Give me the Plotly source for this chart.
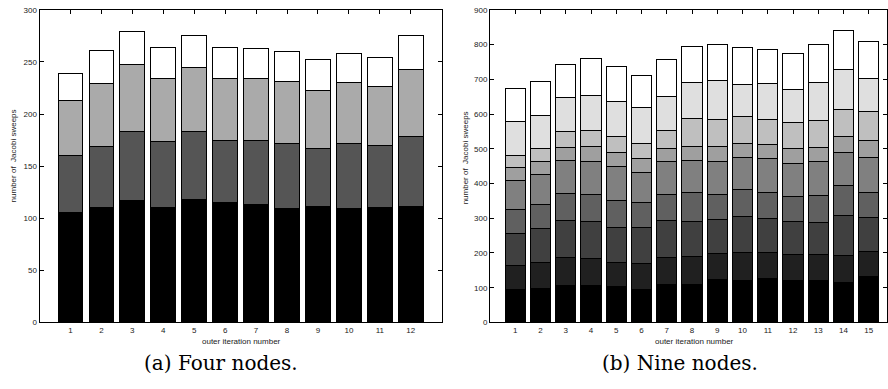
import plotly.graph_objects as go

# ---------------- data: (a) Four nodes ----------------
four_iters = list(range(1, 13))
four_seg1 = [106, 110, 117, 110, 118, 115, 113, 109, 111, 109, 110, 111]
four_seg2 = [54, 59, 66, 64, 65, 60, 62, 63, 56, 63, 60, 67]
four_seg3 = [53, 60, 65, 60, 62, 59, 59, 59, 56, 58, 56, 65]
four_seg4 = [26, 32, 31, 30, 30, 30, 29, 29, 29, 28, 28, 32]
four_colors = ["#000000", "#555555", "#aaaaaa", "#ffffff"]

# ---------------- data: (b) Nine nodes ----------------
nine_iters = list(range(1, 16))
nine_seg1 = [95, 99, 106, 107, 103, 95, 110, 110, 125, 122, 128, 122, 121, 115, 132]
nine_seg2 = [68, 75, 82, 77, 71, 74, 78, 79, 74, 80, 72, 74, 75, 79, 71]
nine_seg3 = [94, 96, 106, 106, 100, 103, 105, 101, 98, 102, 98, 96, 93, 114, 98]
nine_seg4 = [69, 69, 77, 78, 77, 74, 74, 83, 70, 79, 75, 71, 77, 85, 74]
nine_seg5 = [84, 87, 96, 96, 98, 87, 95, 93, 97, 92, 98, 96, 96, 97, 101]
nine_seg6 = [35, 37, 38, 43, 41, 40, 40, 42, 44, 41, 42, 42, 42, 45, 49]
nine_seg7 = [35, 37, 44, 46, 45, 42, 51, 78, 77, 77, 71, 76, 77, 79, 82]
nine_seg8 = [99, 97, 98, 101, 101, 104, 99, 105, 113, 93, 104, 94, 109, 114, 96]
nine_seg9 = [94, 97, 97, 105, 100, 93, 104, 104, 103, 105, 97, 102, 109, 113, 105]
nine_colors = ["#000000", "#202020", "#404040", "#606060", "#808080",
               "#9f9f9f", "#bfbfbf", "#dfdfdf", "#ffffff"]

four_ticks = [0, 50, 100, 150, 200, 250, 300]
nine_ticks = [0, 100, 200, 300, 400, 500, 600, 700, 800, 900]

fig = go.Figure()

for seg, col in zip([four_seg1, four_seg2, four_seg3, four_seg4], four_colors):
    fig.add_trace(go.Bar(x=four_iters, y=seg, width=0.8,
                         marker=dict(color=col, line=dict(color="#000000", width=1)),
                         xaxis="x", yaxis="y", showlegend=False, hoverinfo="skip"))

for seg, col in zip([nine_seg1, nine_seg2, nine_seg3, nine_seg4, nine_seg5,
                     nine_seg6, nine_seg7, nine_seg8, nine_seg9], nine_colors):
    fig.add_trace(go.Bar(x=nine_iters, y=seg, width=0.8,
                         marker=dict(color=col, line=dict(color="#000000", width=1)),
                         xaxis="x2", yaxis="y2", showlegend=False, hoverinfo="skip"))

W, H = 888, 389
ydom = [(H - 326) / H, (H - 6) / H]
tickfont = dict(family="Liberation Sans, Arial, sans-serif", size=8, color="#222222")

axis_common = dict(showgrid=False, zeroline=False, showline=True, linecolor="#000000",
                   linewidth=1, mirror="ticks", ticks="inside", ticklen=4,
                   tickcolor="#000000", tickwidth=1, tickfont=tickfont)

fig.update_layout(
    width=W, height=H,
    margin=dict(l=0, r=0, t=0, b=0),
    paper_bgcolor="#ffffff", plot_bgcolor="#ffffff",
    barmode="stack",
    xaxis=dict(domain=[39.5 / W, 441.7 / W], range=[0, 13], tickvals=four_iters,
               anchor="y", **axis_common),
    yaxis=dict(domain=ydom, range=[0, 300], tickvals=four_ticks, anchor="x",
               **axis_common),
    xaxis2=dict(domain=[490 / W, 887 / W], range=[0, 15.72], tickvals=nine_iters,
                anchor="y2", **axis_common),
    yaxis2=dict(domain=ydom, range=[0, 900], tickvals=nine_ticks, anchor="x2",
                **axis_common),
    hovermode=False,
)

lab_font = dict(family="Liberation Sans, Arial, sans-serif", size=8, color="#222222")
cap_font = dict(family="DejaVu Serif, serif", size=20, color="#000000")

annotations = [
    dict(text="number of  Jacobi sweeps", x=13 / W, y=(H - 156) / H, textangle=-90,
         font=lab_font),
    dict(text="number of  Jacobi sweeps", x=465 / W, y=(H - 158) / H, textangle=-90,
         font=lab_font),
    dict(text="outer iteration number", x=241 / W, y=(H - 345) / H, font=lab_font),
    dict(text="outer iteration number", x=694 / W, y=(H - 345) / H, font=lab_font),
    dict(text="(a) Four nodes.", x=221 / W, y=(H - 367) / H, font=cap_font),
    dict(text="(b) Nine nodes.", x=680 / W, y=(H - 367) / H, font=cap_font),
]
for a in annotations:
    a.update(xref="paper", yref="paper", showarrow=False, xanchor="center", yanchor="middle")
fig.update_layout(annotations=annotations)

fig.write_html("out.html",
               config={"displayModeBar": False, "staticPlot": True},
               post_script="document.body.style.margin='0';document.body.style.padding='0';"
                           "document.body.style.overflow='hidden';")
